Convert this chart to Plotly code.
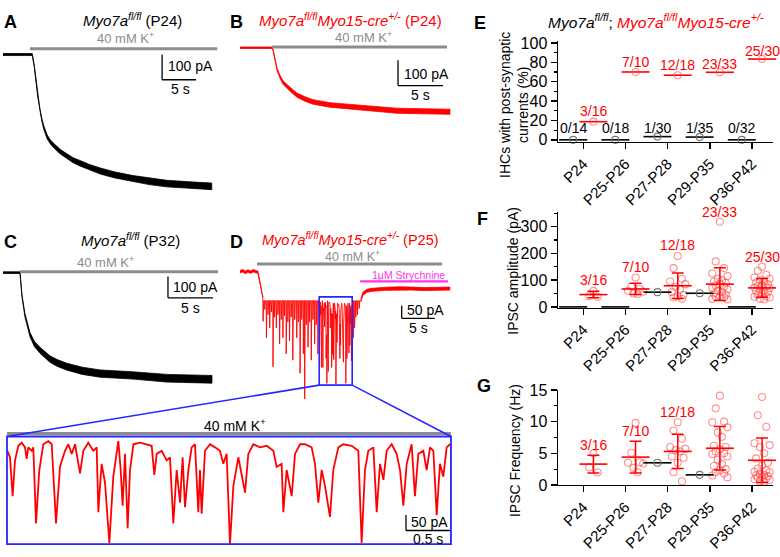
import plotly.graph_objects as go

W, H = 780, 557
RED = "#ff0000"
PINK = "rgba(255,70,70,0.6)"
GRAYBAR = "#8c8c8c"
BLUE = "#2626ff"
MAGENTA = "#ff33ee"
FONT = "Arial, 'Liberation Sans', Helvetica, sans-serif"

# ---------------- data: whole-cell traces (time s, current pA) ----------------
# A: Myo7a fl/fl P24
A_t = [0, 4.3, 4.6, 5.1, 5.4, 5.7, 6.0, 6.5, 7.0, 7.6, 8.4, 9.4, 10.3, 11.3, 12.7, 14.3, 16.5, 19.1, 21.5, 24.1, 27.5, 30.7]
A_I = [0, 0, -46, -162, -215, -258, -290, -327, -348, -365, -385, -404, -419, -431, -447, -462, -478, -492, -503, -512, -518, -523]
A_noise = [4, 4, 4, 5, 5, 6, 7, 8, 8, 9, 9, 10, 10, 11, 11, 12, 12, 12, 13, 13, 13, 13]

# B: Myo7a fl/fl Myo15-cre+/- P24
B_t = [0, 3.56, 3.67, 3.89, 4.11, 4.44, 4.78, 5.56, 6.33, 7.2, 8.11, 10, 13.67, 17.44, 23.33]
B_I = [0, 0, -8, -42, -85, -115, -138, -165, -188, -203, -215, -227, -238, -250, -254]
B_noise = [3, 3, 3, 4, 5, 6, 7, 8, 8, 9, 9, 9, 10, 10, 10]

# C: Myo7a fl/fl P32
C_t = [0, 1.89, 2.11, 2.44, 3.0, 3.5, 4.11, 5.22, 6.0, 7.11, 8.8, 10.78, 14.44, 18.22, 23.22]
C_I = [0, 0, -109, -200, -291, -335, -364, -405, -423, -441, -460, -473, -482, -495, -500]
C_noise = [4, 4, 5, 8, 10, 12, 14, 15, 16, 16, 17, 17, 17, 18, 18]

# D: Myo7a fl/fl Myo15-cre+/- P25 with IPSCs
D_pre_t = [0, 0.4, 0.8, 1.2, 1.6, 2.0, 2.4, 2.7, 3.0, 3.3, 3.45]
D_pre_I = [0, 4, -3, 3, -2, 4, 0, -2, -40, -80, -95]
D_base = -115
D_spk_t = [3.5, 3.75, 4.0, 4.25, 4.5, 4.75, 5.0, 5.25, 5.5, 5.75, 6.0, 6.25, 6.5, 6.75, 7.0, 7.25, 7.5, 7.75,
           8.0, 8.3, 8.6, 8.85, 9.1, 9.35, 9.6, 9.8, 10.05, 10.3, 10.55, 10.8, 11.05, 11.3, 11.55, 11.8,
           17.15, 17.35, 17.55, 17.8, 18.05]
D_spk_I = [-197, -150, -262, -170, -223, -160, -377, -180, -223, -170, -287, -190, -262, -175, -326, -200, -274, -180,
           -351, -190, -262, -200, -403, -190, -326, -505, -210, -300, -200, -351, -190, -287, -210, -326,
           -262, -223, -180, -172, -146]
D_post_t = [18.3, 18.6, 19.2, 20, 22, 24, 26, 28, 30, 31.8]
D_post_I = [-115, -88, -76, -72, -68, -66, -67, -69, -68, -67]
D_zoom_start = 12.0   # s, start of the expanded 5 s window

# Expanded 5 s window (time from window start, s; current pA)
Z_t = [0.004, 0.034, 0.064, 0.091, 0.129, 0.167, 0.205, 0.223, 0.242, 0.280, 0.299, 0.330, 0.367, 0.413, 0.470,
       0.508, 0.557, 0.602, 0.659, 0.697, 0.735, 0.773, 0.830, 0.867, 0.924, 0.981, 1.019, 1.038, 1.057, 1.076,
       1.114, 1.163, 1.208, 1.265, 1.292, 1.314, 1.341, 1.371, 1.398, 1.436, 1.511, 1.587, 1.644, 1.674, 1.701,
       1.758, 1.814, 1.852, 1.890, 1.928, 1.966, 1.996, 2.023, 2.061, 2.098, 2.136, 2.174, 2.193, 2.212, 2.250,
       2.307, 2.364, 2.420, 2.458, 2.496, 2.534, 2.572, 2.629, 2.705, 2.742, 2.799, 2.875, 2.951, 3.027, 3.064,
       3.121, 3.140, 3.178, 3.235, 3.273, 3.330, 3.386, 3.462, 3.500, 3.538, 3.576, 3.614, 3.670, 3.708, 3.765,
       3.822, 3.917, 3.992, 4.030, 4.068, 4.106, 4.163, 4.201, 4.239, 4.277, 4.314, 4.371, 4.428, 4.466, 4.504,
       4.542, 4.598, 4.636, 4.674, 4.731, 4.769, 4.807, 4.845, 4.883, 4.920, 4.958, 4.996, 5.034]
Z_I = [-146, -167, -292, -177, -130, -120, -135, -172, -135, -146, -135, -380, -208, -125, -115,
       -125, -380, -198, -146, -125, -156, -125, -219, -146, -120, -146, -135, -344, -260, -188,
       -250, -443, -229, -115, -208, -323, -156, -396, -208, -125, -120, -125, -130, -224, -156,
       -146, -177, -167, -380, -208, -313, -167, -328, -208, -135, -125, -344, -208, -349, -146,
       -125, -135, -146, -188, -156, -448, -260, -167, -281, -156, -125, -135, -130, -146, -198,
       -188, -344, -208, -292, -156, -125, -125, -135, -188, -313, -208, -260, -359, -208, -135,
       -125, -130, -146, -443, -208, -146, -135, -344, -188, -240, -146, -125, -156, -208, -323,
       -188, -125, -292, -156, -146, -208, -135, -146, -354, -188, -229, -135, -125]

# ---------------- data: summary panels ----------------
categories = ["P24", "P25-P26", "P27-P28", "P29-P35", "P36-P42"]
E_ctrl_n = [0, 0, 1, 1, 0]
E_ctrl_N = [14, 18, 30, 35, 32]
E_ko_n = [3, 7, 12, 23, 25]
E_ko_N = [16, 10, 18, 33, 30]

F_ko_points = [
    [60, 40, 38],
    [110, 75, 68, 60, 50, 48, 57],
    [190, 145, 105, 95, 85, 75, 65, 55, 45, 40, 35, 30],
    [318, 170, 145, 125, 115, 105, 100, 95, 90, 85, 80, 75, 70, 65, 60, 55, 50, 45, 40, 38, 35, 30, 28],
    [150, 135, 120, 110, 105, 100, 95, 90, 85, 80, 78, 75, 72, 70, 65, 60, 58, 55, 50, 45, 40, 38, 35, 30, 28],
]
F_ko_mean = [46, 67, 79, 85, 71]
F_ko_sd = [12, 21, 48, 61, 35]
F_ctrl_val = [0, 0, 55, 51, 0]

G_ko_points = [
    [5.0, 2.8, 2.0],
    [9.8, 5.1, 3.6, 3.5, 3.4, 2.7, 2.0],
    [9.9, 8.6, 7.3, 6.0, 5.7, 5.5, 5.3, 4.5, 4.3, 3.5, 2.0, 0.6],
    [14.1, 12.1, 10.0, 9.9, 9.1, 8.3, 7.6, 6.2, 6.0, 5.6, 5.3, 5.0, 4.9, 4.5, 4.0, 3.3, 3.0, 2.5, 2.3, 2.0, 1.8, 1.5, 1.2],
    [13.9, 11.0, 9.2, 6.6, 6.3, 6.0, 5.0, 4.2, 3.5, 3.1, 2.6, 2.3, 2.1, 2.0, 1.8, 1.6, 1.5, 1.4, 1.3, 1.2, 1.0, 0.9, 0.8, 0.6, 0.5],
]
G_ko_mean = [3.3, 4.4, 5.3, 5.8, 3.9]
G_ko_sd = [1.4, 2.5, 2.7, 3.45, 3.5]
G_ctrl_cat = [2, 3]
G_ctrl_val = [3.5, 1.6]

# ---------------- layout helpers ----------------
fig = go.Figure()
layout = {}
shapes = []
annots = []
PANEL = {}


def P(x, y):
    return x / W, 1 - y / H


def trace_axes(i, box, origin, scale):
    x0, x1, y0, y1 = box
    ox, oy = origin
    sx, sy = scale
    k = "" if i == 1 else str(i)
    layout["xaxis" + k] = dict(domain=[x0 / W, x1 / W], range=[(x0 - ox) / sx, (x1 - ox) / sx],
                               visible=False, anchor="y" + k, fixedrange=True)
    layout["yaxis" + k] = dict(domain=[1 - y1 / H, 1 - y0 / H], range=[(oy - y1) / sy, (oy - y0) / sy],
                               visible=False, anchor="x" + k, fixedrange=True)
    PANEL[i] = dict(k=k, origin=origin, scale=scale)


def to_paper(i, t, I):
    ox, oy = PANEL[i]["origin"]
    sx, sy = PANEL[i]["scale"]
    return P(ox + t * sx, oy - I * sy)


def refs(i):
    k = PANEL[i]["k"]
    return "x" + k, "y" + k


def band(i, t, I, noise, color, lw=0.8):
    xr, yr = refs(i)
    up = [a + n for a, n in zip(I, noise)]
    lo = [a - n for a, n in zip(I, noise)]
    fig.add_trace(go.Scatter(x=list(t) + list(t)[::-1], y=up + lo[::-1], mode="lines", fill="toself",
                             fillcolor=color, line=dict(color=color, width=lw), xaxis=xr, yaxis=yr,
                             hoverinfo="skip", showlegend=False))


def seg(i, x0, y0, x1, y1, color="black", width=1.3):
    xr, yr = refs(i)
    shapes.append(dict(type="line", xref=xr, yref=yr, x0=x0, y0=y0, x1=x1, y1=y1,
                       line=dict(color=color, width=width)))


def scalebar(i, t, I_top, dI, dt):
    seg(i, t, I_top, t, I_top - dI)
    seg(i, t, I_top - dI, t + dt, I_top - dI)


def note(text, x, y, size=14, color="black", xanchor="center", angle=0, bold=False):
    px, py = P(x, y)
    if bold:
        text = "<b>" + text + "</b>"
    annots.append(dict(text=text, x=px, y=py, xref="paper", yref="paper", showarrow=False,
                       xanchor=xanchor, yanchor="middle", textangle=angle,
                       font=dict(size=size, color=color, family=FONT)))


K40 = "40 mM K<sup>+</sup>"
CTRL = "<i>Myo7a</i><sup><i>fl/fl</i></sup>"
KO = "<i>Myo7a</i><sup><i>fl/fl</i></sup><i>Myo15-cre</i><sup><i>+/-</i></sup>"

# ---------------- panel A ----------------
trace_axes(1, (0, 222, 22, 196), (3, 48), (6.8, 0.26))
seg(1, 3.97, 23, 31.5, 23, GRAYBAR, 3)
band(1, A_t, A_I, A_noise, "black")
scalebar(1, 23.4, 0, 100, 5)
note("A", 10, 14, 18, bold=True)
note(CTRL + " (P24)", 132, 12, 15)
note(K40, 125, 31, 13, "#8c8c8c")
note("100 pA", 166, 60, 14, xanchor="left")
note("5 s", 180, 84, 14)

# ---------------- panel B ----------------
trace_axes(2, (233, 456, 22, 125), (240, 41), (9.0, 0.26))
band(2, B_t, B_I, B_noise, RED)
seg(2, 3.56, 3, 23.0, 3, GRAYBAR, 3)
scalebar(2, 17.56, -50, 100, 5)
note("B", 237, 14, 18, bold=True)
note(KO + " (P24)", 350, 12, 15, RED)
note(K40, 363, 30, 13, "#8c8c8c")
note("100 pA", 402, 68, 14, xanchor="left")
note("5 s", 420, 90, 14)

# ---------------- panel C ----------------
trace_axes(3, (0, 222, 248, 392), (3, 273), (9.0, 0.22))
seg(3, 1.89, 4.5, 23.9, 4.5, GRAYBAR, 3)
band(3, C_t, C_I, C_noise, "black")
scalebar(3, 18.33, -18, 100, 5)
note("C", 10, 241, 18, bold=True)
note(CTRL + " (P32)", 130, 239, 15)
note(K40, 105, 262, 13, "#8c8c8c")
note("100 pA", 171, 288, 14, xanchor="left")
note("5 s", 190, 309, 14)

# ---------------- panel D ----------------
trace_axes(4, (233, 456, 248, 412), (240, 272), (6.6, 0.26))
d_t, d_I = [], []
for t, a in zip(D_spk_t[:34], D_spk_I[:34]):
    d_t += [t - 0.03, t, t + 0.09]
    d_I += [D_base, a, D_base]
d_t += [D_zoom_start + z for z in Z_t]
d_I += list(Z_I)
for t, a in zip(D_spk_t[34:], D_spk_I[34:]):
    d_t += [t - 0.03, t, t + 0.09]
    d_I += [D_base, a, D_base]
xr4, yr4 = refs(4)
band(4, D_pre_t, D_pre_I, [5] * len(D_pre_t), RED)
fig.add_trace(go.Scatter(x=[D_pre_t[-1]] + d_t + [D_post_t[0]], y=[D_pre_I[-1]] + d_I + [D_post_I[0]],
                         mode="lines", line=dict(color=RED, width=0.9), xaxis=xr4, yaxis=yr4,
                         hoverinfo="skip", showlegend=False))
band(4, D_post_t, D_post_I, [6] * len(D_post_t), RED)
seg(4, 2.58, 31, 30.6, 31, GRAYBAR, 3)
seg(4, 18.2, -38, 31.5, -38, MAGENTA, 2.2)
scalebar(4, 24.5, -135, 50, 5)
shapes.append(dict(type="rect", xref=xr4, yref=yr4, x0=D_zoom_start, x1=D_zoom_start + 5,
                   y0=-450, y1=-100, line=dict(color=BLUE, width=1.6)))
note("D", 237, 241, 18, bold=True)
note(KO + " (P25)", 350, 238, 14.5, RED)
note(K40, 352, 256, 12.5, "#8c8c8c")
note("1μM Strychnine", 408, 275, 10.5, MAGENTA)
note("50 pA", 405, 311, 14, xanchor="left")
note("5 s", 418, 330, 14)

# ---------------- expanded window ----------------
trace_axes(5, (2, 456, 420, 557), (7, 410), (88.0, 0.32))
xr5, yr5 = refs(5)
fig.add_trace(go.Scatter(x=Z_t, y=Z_I, mode="lines", line=dict(color=RED, width=1.8),
                         xaxis=xr5, yaxis=yr5, hoverinfo="skip", showlegend=False))
seg(5, 0, -90.6, 5.045, -90.6, GRAYBAR, 3)
shapes.append(dict(type="rect", xref=xr5, yref=yr5, x0=0, x1=5.045, y0=-447, y1=-100,
                   line=dict(color=BLUE, width=1.8)))
scalebar(5, 4.534, -353, 50, 0.5)
for tD, tZ in ((D_zoom_start, 0), (D_zoom_start + 5, 5.045)):
    ax0, ay0 = to_paper(4, tD, -450)
    ax1, ay1 = to_paper(5, tZ, -100)
    shapes.append(dict(type="line", xref="paper", yref="paper", x0=ax0, y0=ay0, x1=ax1, y1=ay1,
                       line=dict(color=BLUE, width=1.6)))
note(K40, 235, 430, 14)
note("50 pA", 409, 530, 14, xanchor="left")
note("0.5 s", 428, 548, 14)

# ---------------- E / F / G ----------------
OFF = 0.24
xc = [i - OFF for i in range(5)]
xk = [i + OFF for i in range(5)]
SWARM = [0, -0.1, 0.1, -0.18, 0.18, -0.05, 0.05, -0.14, 0.14]


def cat_x(k):
    return dict(domain=[558 / W, 773 / W], range=[-0.6, 4.5], tickvals=list(range(5)), ticktext=categories,
                tickangle=-45, ticks="outside", ticklen=6, tickwidth=1.5, tickcolor="black",
                showline=True, linewidth=1.5, linecolor="black", showgrid=False, zeroline=False,
                tickfont=dict(size=15, color="black", family=FONT), anchor="y" + k, fixedrange=True)


def val_y(k, y0, y1, rng, dtick, minor):
    return dict(domain=[1 - y1 / H, 1 - y0 / H], range=rng, dtick=dtick, tick0=0, ticks="outside",
                ticklen=6, tickwidth=1.5, tickcolor="black", showline=True, linewidth=1.5,
                linecolor="black", showgrid=False, zeroline=False,
                minor=dict(dtick=minor, tick0=0, ticks="outside", ticklen=3, tickwidth=1.2, tickcolor="black"),
                tickfont=dict(size=16, color="black", family=FONT), anchor="x" + k, fixedrange=True)


layout["xaxis6"] = cat_x("6")
layout["yaxis6"] = val_y("6", 34, 138, [-2, 102], 20, 10)
layout["xaxis7"] = cat_x("7")
layout["yaxis7"] = val_y("7", 210, 309, [-2.5, 356], 100, 50)
layout["xaxis8"] = cat_x("8")
layout["yaxis8"] = val_y("8", 394, 492, [0, 15], 5, 2.5)


def sc(x, y, ax, **kw):
    fig.add_trace(go.Scatter(x=x, y=y, xaxis="x" + ax, yaxis="y" + ax, hoverinfo="skip",
                             showlegend=False, cliponaxis=False, **kw))


def mean_line(x, y, ax, color, err=None):
    kw = {}
    if err is not None:
        kw["error_y"] = dict(type="data", array=err, color=color, thickness=1.5, width=6)
    sc(x, y, ax, mode="markers",
       marker=dict(symbol="line-ew", size=20, color=color, line=dict(color=color, width=1.6)), **kw)


def swarm(points, ax):
    xs, ys = [], []
    for g, vals in enumerate(points):
        for j, v in enumerate(sorted(vals, reverse=True)):
            xs.append(xk[g] + SWARM[j % len(SWARM)])
            ys.append(v)
    sc(xs, ys, ax, mode="markers", marker=dict(symbol="circle-open", size=7, color=PINK, line=dict(width=1.1)))


# E
E_ctrl = [100 * n / N for n, N in zip(E_ctrl_n, E_ctrl_N)]
E_ko = [100 * n / N for n, N in zip(E_ko_n, E_ko_N)]
mean_line(xc, E_ctrl, "6", "black")
sc(xc, E_ctrl, "6", mode="markers", marker=dict(symbol="circle-open", size=7, color="#777777", line=dict(width=1.1)))
mean_line(xk, E_ko, "6", RED)
sc(xk, E_ko, "6", mode="markers", marker=dict(symbol="circle-open", size=7, color=PINK, line=dict(width=1.1)))
E_lab_red = [30, 80, 77, 78, 92]
for g in range(5):
    annots.append(dict(text=f"{E_ctrl_n[g]}/{E_ctrl_N[g]}", x=xc[g], y=12.5, xref="x6", yref="y6",
                       showarrow=False, font=dict(size=14, color="black", family=FONT)))
    annots.append(dict(text=f"{E_ko_n[g]}/{E_ko_N[g]}", x=xk[g], y=E_lab_red[g], xref="x6", yref="y6",
                       showarrow=False, font=dict(size=14, color=RED, family=FONT)))

# F
swarm(F_ko_points, "7")
mean_line(xk, F_ko_mean, "7", RED, F_ko_sd)
mean_line(xc, F_ctrl_val, "7", "black")
sc([xc[2], xc[3]], [F_ctrl_val[2], F_ctrl_val[3]], "7", mode="markers",
   marker=dict(symbol="circle-open", size=7, color="#777777", line=dict(width=1.1)))
F_lab = [99, 150, 233, 356, 186]
for g in range(5):
    annots.append(dict(text=f"{E_ko_n[g]}/{E_ko_N[g]}", x=xk[g], y=F_lab[g], xref="x7", yref="y7",
                       showarrow=False, font=dict(size=14, color=RED, family=FONT)))

# G
swarm(G_ko_points, "8")
mean_line(xk, G_ko_mean, "8", RED, G_ko_sd)
gx = [xc[c] for c in G_ctrl_cat]
mean_line(gx, G_ctrl_val, "8", "black")
sc(gx, G_ctrl_val, "8", mode="markers", marker=dict(symbol="circle-open", size=7, color="#777777", line=dict(width=1.1)))
G_lab = [6.3, 8.5, 11.5, 15.7, 15.2]
for g in range(5):
    annots.append(dict(text=f"{E_ko_n[g]}/{E_ko_N[g]}", x=xk[g], y=G_lab[g], xref="x8", yref="y8",
                       showarrow=False, font=dict(size=14, color=RED, family=FONT)))

note("E", 480, 15, 18, bold=True)
note("F", 482, 218, 18, bold=True)
note("G", 484, 390, 18, bold=True)
note(CTRL + "; <span style='color:red'>" + KO + "</span>", 656, 13, 15.5)
note("IHCs with post-synaptic<br>currents (%)", 514, 100, 14, angle=-90)
note("IPSC amplitude (pA)", 513, 271, 14, angle=-90)
note("IPSC Frequency (Hz)", 515, 457, 14, angle=-90)

fig.update_layout(width=W, height=H, autosize=False, margin=dict(l=0, r=0, t=0, b=0),
                  paper_bgcolor="white", plot_bgcolor="rgba(0,0,0,0)",
                  font=dict(family=FONT, size=14, color="black"),
                  shapes=shapes, annotations=annots, showlegend=False, **layout)

fig.write_html("out.html", config={"displayModeBar": False, "staticPlot": True},
               post_script="document.body.style.margin='0';document.body.style.overflow='hidden';")
